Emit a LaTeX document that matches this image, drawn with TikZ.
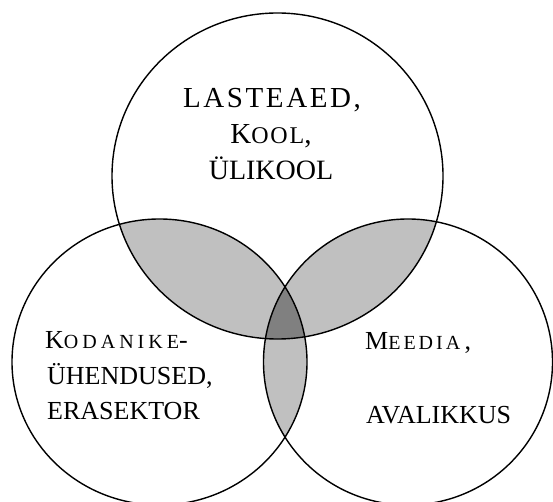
\documentclass[tikz,border=0pt]{standalone}
\usepackage{fontspec}
\setmainfont{Liberation Serif}
\definecolor{lensgrey}{RGB}{192,192,192}
\definecolor{coregrey}{RGB}{128,128,128}
\newcommand{\smallA}[1]{{\fontsize{24}{24}\selectfont #1}}
\newcommand{\smallB}[1]{{\fontsize{20}{20}\selectfont #1}}
\begin{document}
\begin{tikzpicture}[x=1pt,y=-1pt,
  ring/.style={draw=black, line width=1.4pt},
  toplabel/.style={font=\fontsize{29}{29}\selectfont, inner sep=0pt, anchor=base},
  sidelabel/.style={font=\fontsize{26}{26}\selectfont, inner sep=0pt, anchor=base west}]
\clip (0,0) rectangle (553,502);
\fill[white] (0,0) rectangle (553,502);
\def\circT{(277.5,176) ellipse [x radius=165.5, y radius=163]}
\def\circL{(159.5,362) ellipse [x radius=147.5, y radius=143]}
\def\circR{(408,362) ellipse [x radius=144.5, y radius=143]}
% pairwise overlaps
\begin{scope}
  \clip \circT;
  \fill[lensgrey] \circL;
  \fill[lensgrey] \circR;
\end{scope}
\begin{scope}
  \clip \circL;
  \fill[lensgrey] \circR;
\end{scope}
% triple overlap
\begin{scope}
  \clip \circT;
  \clip \circL;
  \fill[coregrey] \circR;
\end{scope}
% outlines
\draw[ring] \circT;
\draw[ring] \circL;
\draw[ring] \circR;
% labels
\node[toplabel, font=\fontsize{29}{29}\selectfont\addfontfeatures{LetterSpace=9}] (t1) at (272,108) {LASTEAED,};
\node[toplabel, font=\fontsize{29}{29}\selectfont\addfontfeatures{LetterSpace=8}] (t2) at (271,144) {K\smallA{OOL},};
\node[toplabel, font=\fontsize{28}{28}\selectfont] (t3) at (271,180) {ÜLIKOOL};
\node[sidelabel, font=\fontsize{26}{26}\selectfont\addfontfeatures{LetterSpace=20}] (l1) at (45,348) {K\smallB{ODANIKE}-};
\node[sidelabel] (l2) at (47,384) {ÜHENDUSED,};
\node[sidelabel] (l3) at (47,419) {ERASEKTOR};
\node[sidelabel, font=\fontsize{26}{26}\selectfont\addfontfeatures{LetterSpace=15}] (r1) at (365,349) {M\smallB{EEDIA}\,,};
\node[sidelabel] (r2) at (366,423) {AVALIKKUS};
\end{tikzpicture}
\end{document}
